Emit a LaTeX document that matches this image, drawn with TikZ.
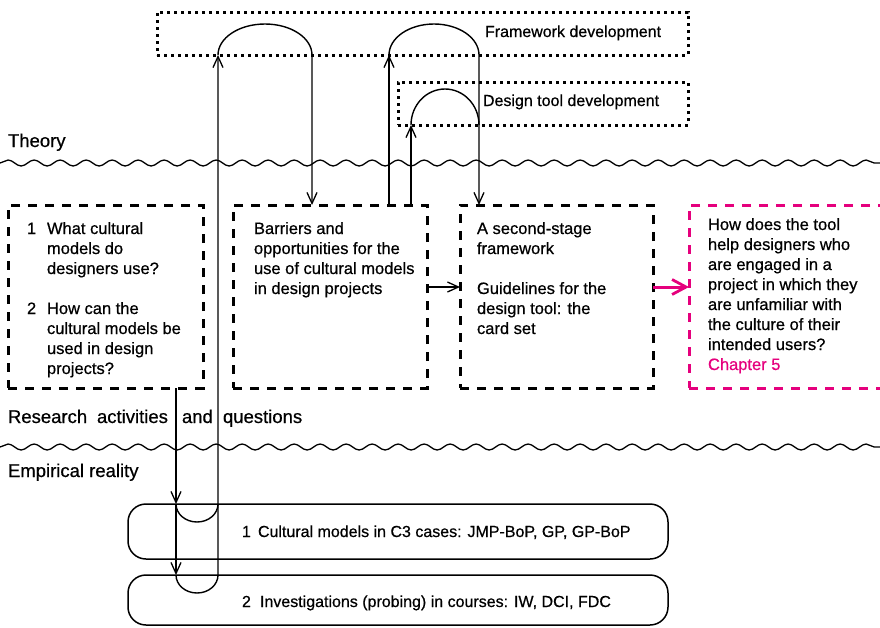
\documentclass[tikz,border=0pt]{standalone}
\usepackage{fontspec}
\setmainfont{Liberation Sans}[FakeBold=0.6]
\usetikzlibrary{arrows.meta,decorations.pathmorphing}
\definecolor{mag}{HTML}{E5007D}
\newcommand\mystrut{\rule{0pt}{14pt}}
\begin{document}
\begin{tikzpicture}[x=1pt,y=-1pt,
  every node/.style={inner sep=0pt, outer sep=0pt, font=\fontsize{16.5}{20}\selectfont},
  txt/.style={anchor=north west, align=left},
  lbl/.style={anchor=base west},
  big/.style={anchor=base west, font=\fontsize{18.5}{22}\selectfont},
  small/.style={anchor=base west, font=\fontsize{16}{20}\selectfont},
  qbox/.style={draw, line width=3pt, dash pattern=on 9pt off 8pt, minimum width=#1, minimum height=183pt, anchor=north west},
  dotbox/.style={draw, line width=3pt, dash pattern=on 3pt off 4pt, anchor=north west},
  ebox/.style={draw, line width=1.5pt, rounded corners=18pt, minimum width=540pt, anchor=north west},
  wave/.style={line width=1.3pt, decorate, decoration={snake, segment length=26pt, amplitude=3pt}},
  conn/.style={line width=1.4pt, -{Straight Barb[length=11pt,width=10pt,line width=1.3pt]}},
  plain/.style={line width=1.4pt},
  magarrow/.style={draw=mag, line width=3pt, -{Straight Barb[length=14pt,width=15pt,line width=2.8pt]}}
]
\useasboundingbox (0,0) rectangle (880,627);
\clip (0,0) rectangle (880,627);

% top dotted boxes
\node[dotbox, minimum width=531pt, minimum height=43pt] (fw) at (157,12) {};
\node[dotbox, minimum width=290pt, minimum height=43pt] (dt) at (398,82) {};
\node[small] (fwt) at (485,37) {Framework development};
\node[small] (dtt) at (483,106) {Design tool development};

% layer labels and waves
\node[big] (theory) at (8,147) {Theory};
\node[big] (research1) at (8,423) {Research};
\node[big] (research2) at (97,423) {activities};
\node[big] (research3) at (182,423) {and};
\node[big] (research4) at (223,423) {questions};
\node[big] (empirical) at (8,477) {Empirical reality};
\draw[wave] (0,163) -- (880,163);
\draw[wave] (0,447) -- (880,447);

% question boxes
\node[qbox=195pt] (qa) at (8,205) {};
\node[qbox=194pt] (qb) at (233,205) {};
\node[qbox=193pt] (qc) at (460,205) {};
\node[qbox=220pt, draw=mag] (qd) at (689,205) {};

\node[lbl] (n1) at (27,234) {1};
\node[txt] (qa1) at (47,220) {\mystrut What cultural\\models do\\designers use?};
\node[lbl] (n2) at (27,314) {2};
\node[txt] (qa2) at (47,300) {\mystrut How can the\\cultural models be\\used in design\\projects?};
\node[txt] (qbt) at (254,220) {\mystrut Barriers and\\opportunities for the\\use of cultural models\\in design projects};
\node[txt] (qc1) at (477,220) {\mystrut A second-stage\\framework};
\node[txt] (qc2) at (477,280) {\mystrut Guidelines for the\\design tool: the\\card set};
\node[txt] (qdt) at (708,216) {\mystrut How does the tool\\help designers who\\are engaged in a\\project in which they\\are unfamiliar with\\the culture of their\\intended users?\\\textcolor{mag}{Chapter 5}};

% empirical boxes
\node[ebox, minimum height=55pt] (e1) at (128,504) {};
\node[ebox, minimum height=50pt] (e2) at (128,575) {};
\node[small] (e1n) at (242,537) {1};
\node[small] (e1t) at (258,537) {Cultural models in C3 cases: JMP-BoP, GP, GP-BoP};
\node[small] (e2n) at (242,607) {2};
\node[small] (e2t) at (260,607) {Investigations (probing) in courses: IW, DCI, FDC};

% connectors
\draw[conn] (176,0 |- qa.south) -- (176,0 |- e1.north);
\draw[conn] (176,0 |- e1.north) -- (176,0 |- e2.north);
\draw[plain] (176,0 |- e1.north) arc[start angle=180, end angle=360, x radius=21pt, y radius=18pt];
\draw[conn] (176,0 |- e2.north) arc[start angle=180, end angle=360, x radius=21pt, y radius=18pt] -- (218,0 |- fw.south);
\draw[conn] (218,0 |- fw.south) arc[start angle=180, end angle=0, x radius=47pt, y radius=31pt] -- (312,0 |- qb.north);
\draw[conn] (389,0 |- qb.north) -- (389,0 |- fw.south);
\draw[conn] (389,0 |- fw.south) arc[start angle=180, end angle=0, x radius=45pt, y radius=31pt] -- (479,0 |- qc.north);
\draw[conn] (411,0 |- qb.north) -- (411,0 |- dt.south);
\draw[plain] (411,0 |- dt.south) arc[start angle=180, end angle=0, x radius=34pt, y radius=36pt];
\draw[conn] (qb.east |- 0,287) -- (qc.west |- 0,287);
\draw[magarrow] (qc.east |- 0,287) -- (qd.west |- 0,287);
\end{tikzpicture}
\end{document}
